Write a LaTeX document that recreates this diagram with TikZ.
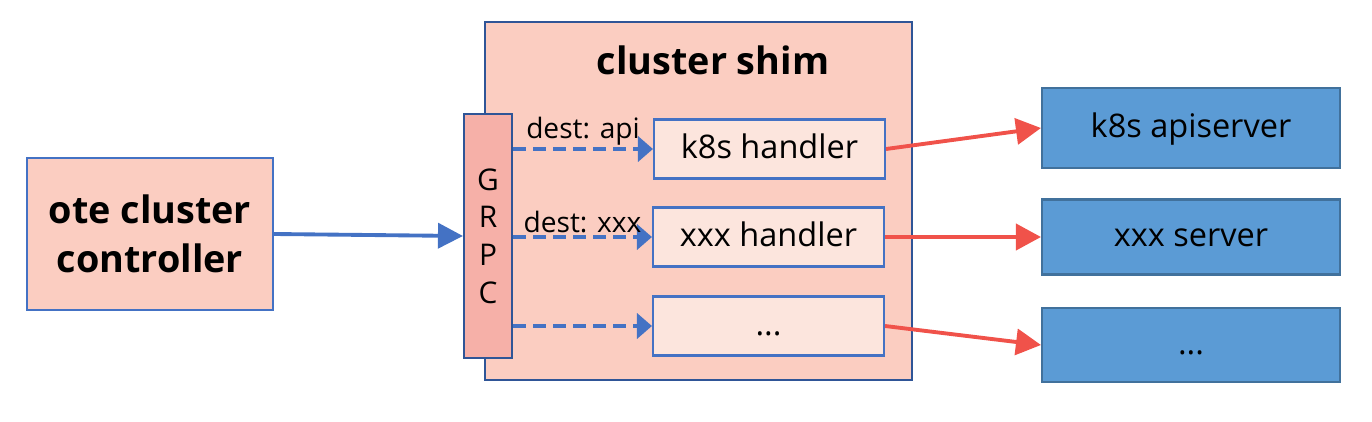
\documentclass[tikz,border=0pt]{standalone}
\usepackage{fontspec}
\setmainfont{Open Sans}
\usetikzlibrary{arrows.meta, positioning}
\definecolor{pinkfill}{HTML}{FBCDC1}
\definecolor{grpcfill}{HTML}{F6B0A8}
\definecolor{lightfill}{HTML}{FCE5DD}
\definecolor{serverfill}{HTML}{5B9BD5}
\definecolor{serverline}{HTML}{41719C}
\definecolor{blueline}{HTML}{4472C4}
\definecolor{darkline}{HTML}{2F5597}
\definecolor{redline}{HTML}{F0524A}

\begin{document}
\begin{tikzpicture}[x=0.02cm, y=-0.02cm,
  pinkbox/.style={draw=blueline, fill=pinkfill, line width=1.2pt, align=center,
    font=\fontsize{21.5}{28}\selectfont\bfseries},
  handlerbox/.style={draw=blueline, fill=lightfill, line width=1.2pt,
    minimum width=4.62cm, minimum height=1.18cm, text height=13.5pt, text depth=3pt,
    font=\fontsize{18.5}{22}\selectfont},
  serverbox/.style={draw=serverline, fill=serverfill, line width=1.2pt,
    minimum width=5.96cm, text height=13.5pt, text depth=3pt,
    font=\fontsize{18.5}{22}\selectfont},
  bluearrow/.style={draw=blueline, line width=2.2pt, -{Triangle[length=0.5cm, width=0.5cm]}},
  dasharrow/.style={draw=blueline, line width=2.2pt, dash pattern=on 0.26cm off 0.14cm,
    -{Triangle[length=0.3cm, width=0.5cm]}},
  redarrow/.style={draw=redline, line width=2.2pt, -{Triangle[length=0.5cm, width=0.52cm]}},
  destlbl/.style={font=\fontsize{16}{18}\selectfont, inner sep=1pt}]
\useasboundingbox (0,0) rectangle (1372,422);

% Controller on the left
\node[pinkbox, minimum width=4.92cm, minimum height=3.04cm] (ctrl) at (150,234)
  {ote cluster\\controller};

% The shim and its GRPC entry
\node[draw=darkline, fill=pinkfill, line width=1.2pt, minimum width=8.54cm,
  minimum height=7.16cm] (shim) at (698.5,201) {};
\node[font=\fontsize{21.5}{24}\selectfont\bfseries] (shimtitle) at (713,60) {cluster shim};
\node[draw=darkline, fill=grpcfill, line width=1.2pt, minimum width=0.96cm,
  minimum height=4.88cm, align=center, font=\fontsize{17}{21.5}\selectfont] (grpc)
  at (488,236) {G\\R\\P\\C};

% Handlers inside the shim
\node[handlerbox] (h1) at (769.5,149) {k8s handler};
\node[handlerbox] (h2) at (768.5,237) {xxx handler};
\node[handlerbox] (h3) at (768.5,326) {...};

% Servers on the right
\node[serverbox, minimum height=1.6cm] (s1) at (1191,128) {k8s apiserver};
\node[serverbox, minimum height=1.5cm] (s2) at (1191,237) {xxx server};
\node[serverbox, minimum height=1.48cm] (s3) at (1191,345) {...};

% Connectors
\draw[bluearrow] (ctrl.east) -- (grpc.west);
\draw[dasharrow] (grpc.east |- h1.west) -- node[destlbl, above] (d1) {dest: api} (h1.west);
\draw[dasharrow] (grpc.east |- h2.west) -- node[destlbl, above] (d2) {dest: xxx} (h2.west);
\draw[dasharrow] (grpc.east |- h3.west) -- (h3.west);
\draw[redarrow] (h1.east) -- (s1.west);
\draw[redarrow] (h2.east) -- (s2.west);
\draw[redarrow] (h3.east) -- (s3.west);
\end{tikzpicture}
\end{document}
